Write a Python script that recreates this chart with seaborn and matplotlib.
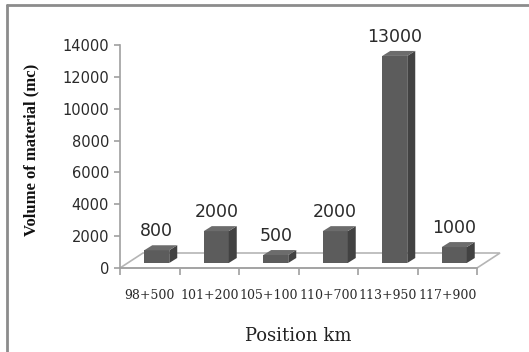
import numpy as np
import pandas as pd
import matplotlib.pyplot as plt
from matplotlib.patches import Polygon
from matplotlib.lines import Line2D
import seaborn as sns

# Data
positions = ['98+500', '101+200', '105+100', '110+700', '113+950', '117+900']
volumes = [800, 2000, 500, 2000, 13000, 1000]
yticks = [0, 2000, 4000, 6000, 8000, 10000, 12000, 14000]

df = pd.DataFrame({'position': positions, 'volume': volumes})

sns.set_theme(style='white')

W, H = 529, 352
fig = plt.figure(figsize=(W / 100, H / 100), dpi=100)
fig.patch.set_facecolor('white')
ax = fig.add_axes([120 / W, 84 / H, 357 / W, 223 / H])

sns.barplot(data=df, x='position', y='volume', color='#5c5c5c', width=0.42,
            saturation=1, ax=ax, zorder=3)

ax.set_xlim(-0.5, 5.5)
ax.set_ylim(0, 14000)

# pixel -> data units
ux = 6 / 357
uy = 14000 / 223

# 3D floor
fdx, fdy = 23 * ux, 15 * uy
floor = Polygon([(-0.5, 0), (5.5, 0), (5.5 + fdx, fdy), (-0.5 + fdx, fdy)],
                closed=True, fill=False, edgecolor='#b5b5b5', lw=1.2,
                clip_on=False, zorder=1)
ax.add_patch(floor)

# 3D bars
bx, by = 7 * ux, 5 * uy      # front face shift
dx, dy = 8 * ux, 5 * uy      # bar depth
for p, v in zip(ax.patches[:len(volumes)], volumes):
    x0 = p.get_x() + bx
    w = p.get_width()
    p.set_x(x0)
    p.set_y(by)
    p.set_edgecolor('none')
    y1 = by + v
    side = Polygon([(x0 + w, by), (x0 + w, y1), (x0 + w + dx, y1 + dy), (x0 + w + dx, by + dy)],
                   closed=True, facecolor='#424242', edgecolor='none', zorder=3, clip_on=False)
    top = Polygon([(x0, y1), (x0 + w, y1), (x0 + w + dx, y1 + dy), (x0 + dx, y1 + dy)],
                  closed=True, facecolor='#6c6c6c', edgecolor='none', zorder=3, clip_on=False)
    ax.add_patch(side)
    ax.add_patch(top)
    ax.text(x0 + w / 2, y1 + 19 * uy, f'{v}', ha='center', va='center',
            fontsize=12.5, family='DejaVu Sans', color='#2a2a2a')

# Axes styling
sns.despine(ax=ax, top=True, right=True)
for s in ['left', 'bottom']:
    ax.spines[s].set_color('#a0a0a0')
    ax.spines[s].set_linewidth(1.2)

ax.set_yticks(yticks)
ax.set_yticklabels([str(t) for t in yticks], fontsize=10.5, family='DejaVu Sans', color='#2a2a2a')
ax.tick_params(axis='y', direction='out', length=4, width=1.2, color='#a0a0a0', pad=4, left=True)

ax.set_xticks(range(len(positions)))
ax.set_xticklabels(positions, fontsize=9, family='DejaVu Serif', color='#2a2a2a')
ax.set_xticks(np.arange(-0.5, 6, 1), minor=True)
ax.tick_params(axis='x', which='major', length=0, pad=15)
ax.tick_params(axis='x', which='minor', direction='out', length=5, width=1.2,
               color='#a0a0a0', bottom=True)

ax.set_xlabel('Position km', fontsize=13, family='DejaVu Serif', color='#222222', labelpad=18)
ax.set_ylabel('Volume of material (mc)', fontsize=12, family='Liberation Serif',
              fontweight='bold', color='#111111')
ax.yaxis.set_label_coords(-0.227, 0.529)

# outer chart border
fig.add_artist(Line2D([7 / W, 7 / W], [0, 1 - 5 / H], color='#8c8c8c', lw=2))
fig.add_artist(Line2D([7 / W, 1], [1 - 5 / H, 1 - 5 / H], color='#8c8c8c', lw=2))

fig.savefig('out.png', dpi=100)
